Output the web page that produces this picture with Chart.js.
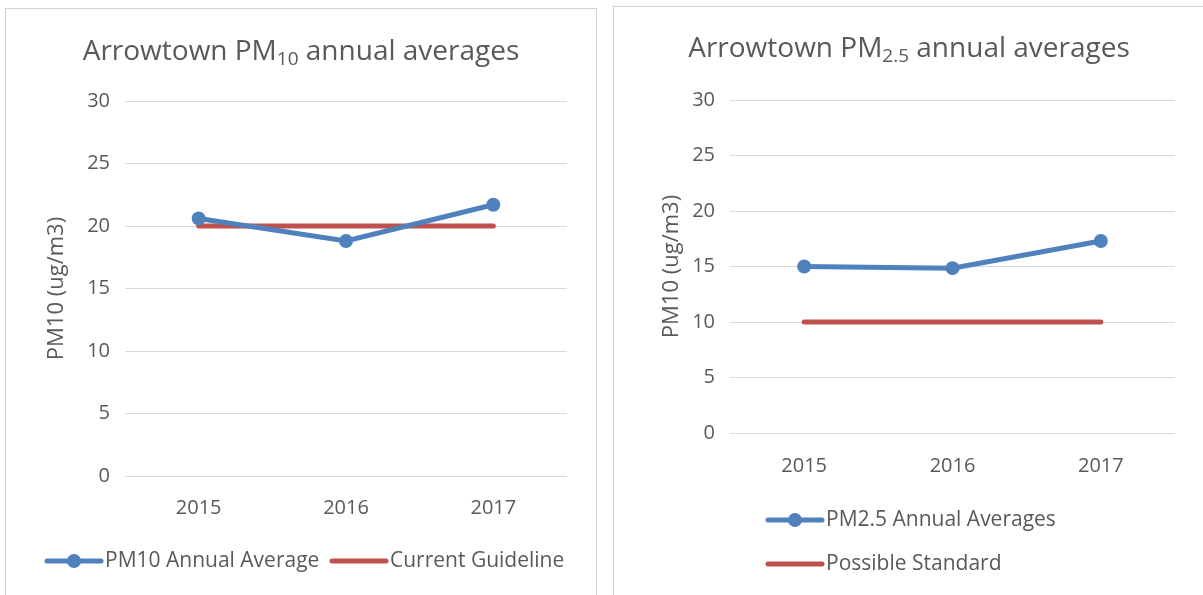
<!DOCTYPE html>
<html>
<head>
<meta charset="utf-8">
<script src="https://cdn.jsdelivr.net/npm/chart.js@4"></script>
<style>
    body { margin: 0; background: #fff; width: 1203px; height: 595px; overflow: hidden; position: relative; }
    .box { position: absolute; border: 1px solid #d4d4d4; background: #fff; }
    #boxLeft { left: 5px; top: 8px; width: 590px; height: 600px; }
    #boxRight { left: 613px; top: 6px; width: 600px; height: 600px; }
    canvas { position: absolute; left: 0; top: 0; }
</style>
</head>
<body>
<div class="box" id="boxLeft"><canvas id="leftChart" width="590" height="587"></canvas></div>
<div class="box" id="boxRight"><canvas id="rightChart" width="589" height="589"></canvas></div>
<script>
// Chart data
const years = ['2015', '2016', '2017'];
const pm10Averages = [20.6, 18.8, 21.7];
const currentGuideline = [20, 20, 20];
const pm25Averages = [15.0, 14.85, 17.3];
const possibleStandard = [10, 10, 10];
const yTicks = [0, 5, 10, 15, 20, 25, 30];

const FONT = '"Open Sans", Lato, sans-serif';
const TEXT = '#595959';
const BLUE = '#4f81bd';
const RED = '#c0504d';

Chart.defaults.font.family = FONT;
Chart.defaults.color = TEXT;

// Title with a subscript part, drawn onto the canvas
function subTitlePlugin(before, sub, after, centerX, baseY) {
    return {
        id: 'subTitle',
        afterDraw(chart) {
            const ctx = chart.ctx;
            ctx.save();
            ctx.fillStyle = TEXT;
            ctx.textBaseline = 'alphabetic';
            const big = '28px ' + FONT;
            const small = '19px ' + FONT;
            ctx.font = big;
            const w1 = ctx.measureText(before).width;
            const w3 = ctx.measureText(after).width;
            ctx.font = small;
            const w2 = ctx.measureText(sub).width;
            let x = centerX - (w1 + w2 + w3) / 2;
            ctx.font = big;
            ctx.fillText(before, x, baseY);
            x += w1;
            ctx.font = small;
            ctx.fillText(sub, x, baseY + 5);
            x += w2;
            ctx.font = big;
            ctx.fillText(after, x, baseY);
            ctx.restore();
        }
    };
}

// Legend entries drawn as line samples (with marker for the point series)
function legendPlugin(items) {
    return {
        id: 'customLegend',
        afterDraw(chart) {
            const ctx = chart.ctx;
            ctx.save();
            ctx.font = '21px ' + FONT;
            ctx.textBaseline = 'middle';
            items.forEach(item => {
                const ds = chart.data.datasets[item.index];
                ctx.strokeStyle = ds.borderColor;
                ctx.lineWidth = 5;
                ctx.lineCap = 'round';
                ctx.beginPath();
                ctx.moveTo(item.x, item.y);
                ctx.lineTo(item.x + 54, item.y);
                ctx.stroke();
                if (ds.pointRadius > 0) {
                    ctx.fillStyle = ds.borderColor;
                    ctx.beginPath();
                    ctx.arc(item.x + 27, item.y, 7, 0, Math.PI * 2);
                    ctx.fill();
                }
                ctx.fillStyle = TEXT;
                ctx.fillText(ds.label, item.x + 58, item.y);
            });
            ctx.restore();
        }
    };
}

function makeChart(id, cfg) {
    return new Chart(document.getElementById(id), {
        type: 'line',
        data: {
            labels: years,
            datasets: [{
                label: cfg.seriesLabel,
                data: cfg.series,
                borderColor: BLUE,
                backgroundColor: BLUE,
                borderWidth: 5,
                pointRadius: 7,
                pointHoverRadius: 7,
                pointBackgroundColor: BLUE,
                pointBorderWidth: 0,
                tension: 0
            }, {
                label: cfg.refLabel,
                data: cfg.reference,
                borderColor: RED,
                backgroundColor: RED,
                borderWidth: 5,
                borderCapStyle: 'round',
                pointRadius: 0,
                pointHoverRadius: 0,
                tension: 0
            }]
        },
        options: {
            responsive: false,
            animation: false,
            events: [],
            layout: { padding: { left: 0, top: cfg.top, right: cfg.right, bottom: cfg.bottomPad } },
            plugins: {
                legend: { display: false },
                title: { display: false },
                tooltip: { enabled: false }
            },
            scales: {
                x: {
                    offset: true,
                    grid: { display: false, drawTicks: false },
                    border: { display: false },
                    ticks: { font: { size: 20 }, color: TEXT, padding: cfg.xPad },
                    afterFit(scale) { scale.height = cfg.xHeight; }
                },
                y: {
                    min: 0,
                    max: 30,
                    afterBuildTicks(scale) { scale.ticks = yTicks.map(v => ({ value: v })); },
                    grid: { color: '#d9d9d9', lineWidth: 1, drawTicks: false },
                    border: { display: false },
                    ticks: { font: { size: 20 }, color: TEXT, padding: cfg.yPad },
                    title: {
                        display: true,
                        text: 'PM10 (ug/m3)',
                        font: { size: 22 },
                        color: TEXT,
                        padding: { top: cfg.titlePad, bottom: 0 }
                    },
                    afterFit(scale) { scale.width = cfg.yWidth; }
                }
            }
        },
        plugins: [
            subTitlePlugin(cfg.t1, cfg.t2, cfg.t3, 295, cfg.titleBase),
            legendPlugin(cfg.legend)
        ]
    });
}

makeChart('leftChart', {
    seriesLabel: 'PM10 Annual Average',
    series: pm10Averages,
    refLabel: 'Current Guideline',
    reference: currentGuideline,
    t1: 'Arrowtown PM', t2: '10', t3: ' annual averages', titleBase: 51,
    top: 92, right: 29, bottomPad: 70, xHeight: 50, xPad: 20,
    yWidth: 119, yPad: 15, titlePad: 38,
    legend: [{ index: 0, x: 41, y: 552 }, { index: 1, x: 326, y: 552 }]
});

makeChart('rightChart', {
    seriesLabel: 'PM2.5 Annual Averages',
    series: pm25Averages,
    refLabel: 'Possible Standard',
    reference: possibleStandard,
    t1: 'Arrowtown PM', t2: '2.5', t3: ' annual averages', titleBase: 50,
    top: 93, right: 28, bottomPad: 113, xHeight: 50, xPad: 21,
    yWidth: 116, yPad: 15, titlePad: 45,
    legend: [{ index: 0, x: 154, y: 513 }, { index: 1, x: 154, y: 557 }]
});
</script>
</body>
</html>
